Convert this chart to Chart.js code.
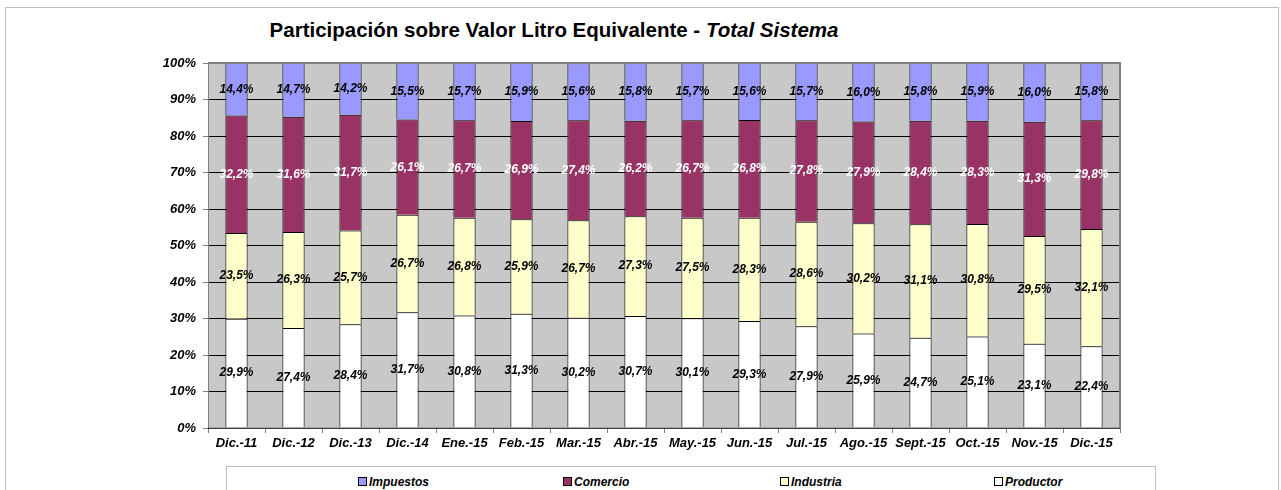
<!DOCTYPE html>
<html>
<head>
<meta charset="utf-8">
<script src="https://cdn.jsdelivr.net/npm/chart.js@4"></script>
<style>
  body { margin: 0; background: #fff; font-family: "Liberation Sans", Arial, sans-serif; }
  #wrap { position: relative; width: 1281px; height: 490px; overflow: hidden; }
  #frame { position: absolute; left: 5px; top: 7px; width: 1272px; height: 500px; border: 1px solid #bfbfbf; }
  #titulo { position: absolute; left: 0; top: 18px; width: 1108px; text-align: center; font-size: 20.5px; font-weight: bold; color: #000; }
  #leyenda { position: absolute; left: 226px; top: 466px; width: 928px; height: 40px; border: 1px solid #bfbfbf; background: #fff; }
  .item { position: absolute; top: 8px; font-size: 12px; font-weight: bold; font-style: italic; color: #000; }
  .item span.sq { display: inline-block; width: 7px; height: 7px; border: 1px solid #000; margin-right: 2px; vertical-align: 0px; }
  canvas { position: absolute; left: 0; top: 0; }
</style>
</head>
<body>
<div id="wrap">
  <div id="frame"></div>
  <div id="titulo">Participación sobre Valor Litro Equivalente - <i>Total Sistema</i></div>
  <canvas id="grafico" width="1281" height="490"></canvas>
  <div id="leyenda"></div>
</div>
<script>
const categorias = ['Dic.-11', 'Dic.-12', 'Dic.-13', 'Dic.-14', 'Ene.-15', 'Feb.-15', 'Mar.-15', 'Abr.-15',
                    'May.-15', 'Jun.-15', 'Jul.-15', 'Ago.-15', 'Sept.-15', 'Oct.-15', 'Nov.-15', 'Dic.-15'];
const productor = [29.9, 27.4, 28.4, 31.7, 30.8, 31.3, 30.2, 30.7, 30.1, 29.3, 27.9, 25.9, 24.7, 25.1, 23.1, 22.4];
const industria = [23.5, 26.3, 25.7, 26.7, 26.8, 25.9, 26.7, 27.3, 27.5, 28.3, 28.6, 30.2, 31.1, 30.8, 29.5, 32.1];
const comercio  = [32.2, 31.6, 31.7, 26.1, 26.7, 26.9, 27.4, 26.2, 26.7, 26.8, 27.8, 27.9, 28.4, 28.3, 31.3, 29.8];
const impuestos = [14.4, 14.7, 14.2, 15.5, 15.7, 15.9, 15.6, 15.8, 15.7, 15.6, 15.7, 16.0, 15.8, 15.9, 16.0, 15.8];
const ticksY = [0, 10, 20, 30, 40, 50, 60, 70, 80, 90, 100];

const series = [
    { label: 'Productor', data: productor, color: '#ffffff', texto: '#000000' },
    { label: 'Industria', data: industria, color: '#ffffcc', texto: '#000000' },
    { label: 'Comercio',  data: comercio,  color: '#993366', texto: '#ffffff' },
    { label: 'Impuestos', data: impuestos, color: '#9999ff', texto: '#000000' }
];

// leyenda en HTML, orden inverso
const posLeyenda = [131, 336, 553, 767];
series.slice().reverse().forEach((s, i) => {
    const d = document.createElement('div');
    d.className = 'item';
    d.style.left = posLeyenda[i] + 'px';
    d.innerHTML = '<span class="sq" style="background:' + s.color + '"></span>' + s.label;
    document.getElementById('leyenda').appendChild(d);
});

const fondoPlot = {
    id: 'fondoPlot',
    beforeDraw(chart) {
        const { ctx, chartArea: a } = chart;
        ctx.save();
        ctx.fillStyle = '#c8c8c8';
        ctx.fillRect(a.left, a.top, a.right - a.left, a.bottom - a.top);
        ctx.restore();
    },
    afterDraw(chart) {
        const { ctx, chartArea: a } = chart;
        ctx.save();
        ctx.strokeStyle = '#808080';
        ctx.lineWidth = 2;
        ctx.beginPath();
        ctx.moveTo(a.left, a.top);
        ctx.lineTo(a.right, a.top);
        ctx.lineTo(a.right, a.bottom);
        ctx.stroke();
        ctx.lineWidth = 1;
        ctx.beginPath();
        ctx.moveTo(a.left + 0.5, a.top);
        ctx.lineTo(a.left + 0.5, a.bottom);
        ctx.lineTo(a.right, a.bottom);
        ctx.stroke();
        ctx.restore();
    }
};

const etiquetas = {
    id: 'etiquetas',
    afterDatasetsDraw(chart) {
        const ctx = chart.ctx;
        ctx.save();
        ctx.font = 'italic bold 12px "Liberation Sans", Arial, sans-serif';
        ctx.textAlign = 'center';
        ctx.textBaseline = 'middle';
        chart.data.datasets.forEach((ds, di) => {
            const meta = chart.getDatasetMeta(di);
            meta.data.forEach((bar, i) => {
                const y = (bar.y + bar.base) / 2;
                ctx.fillStyle = series[di].texto;
                ctx.fillText(ds.data[i].toFixed(1).replace('.', ',') + '%', bar.x, y);
            });
        });
        ctx.restore();
    }
};

const fuenteEje = { family: '"Liberation Sans", Arial, sans-serif', size: 13, weight: 'bold', style: 'italic' };

new Chart(document.getElementById('grafico').getContext('2d'), {
    type: 'bar',
    data: {
        labels: categorias,
        datasets: series.map(s => ({
            label: s.label,
            data: s.data,
            backgroundColor: s.color,
            borderColor: '#000000',
            borderWidth: 1,
            barPercentage: 0.39,
            categoryPercentage: 1
        }))
    },
    options: {
        responsive: false,
        animation: false,
        layout: { padding: { top: 63, right: 161, left: 0, bottom: 0 } },
        scales: {
            x: {
                stacked: true,
                afterFit(scale) { scale.height = 62; },
                border: { display: false },
                grid: { drawOnChartArea: false, drawTicks: true, tickLength: 5, color: '#808080' },
                ticks: { color: '#000', font: fuenteEje, maxRotation: 0, autoSkip: false, padding: 3 }
            },
            y: {
                stacked: true,
                min: 0,
                max: 100,
                afterFit(scale) { scale.width = 208; },
                afterBuildTicks(scale) { scale.ticks = ticksY.map(v => ({ value: v })); },
                border: { display: false },
                grid: { color: '#000000', tickColor: '#808080', tickLength: 5, lineWidth: 1 },
                ticks: { color: '#000', font: fuenteEje, padding: 7, callback: v => v + '%' }
            }
        },
        plugins: {
            legend: { display: false },
            title: { display: false },
            tooltip: { enabled: false }
        }
    },
    plugins: [fondoPlot, etiquetas]
});
</script>
</body>
</html>
